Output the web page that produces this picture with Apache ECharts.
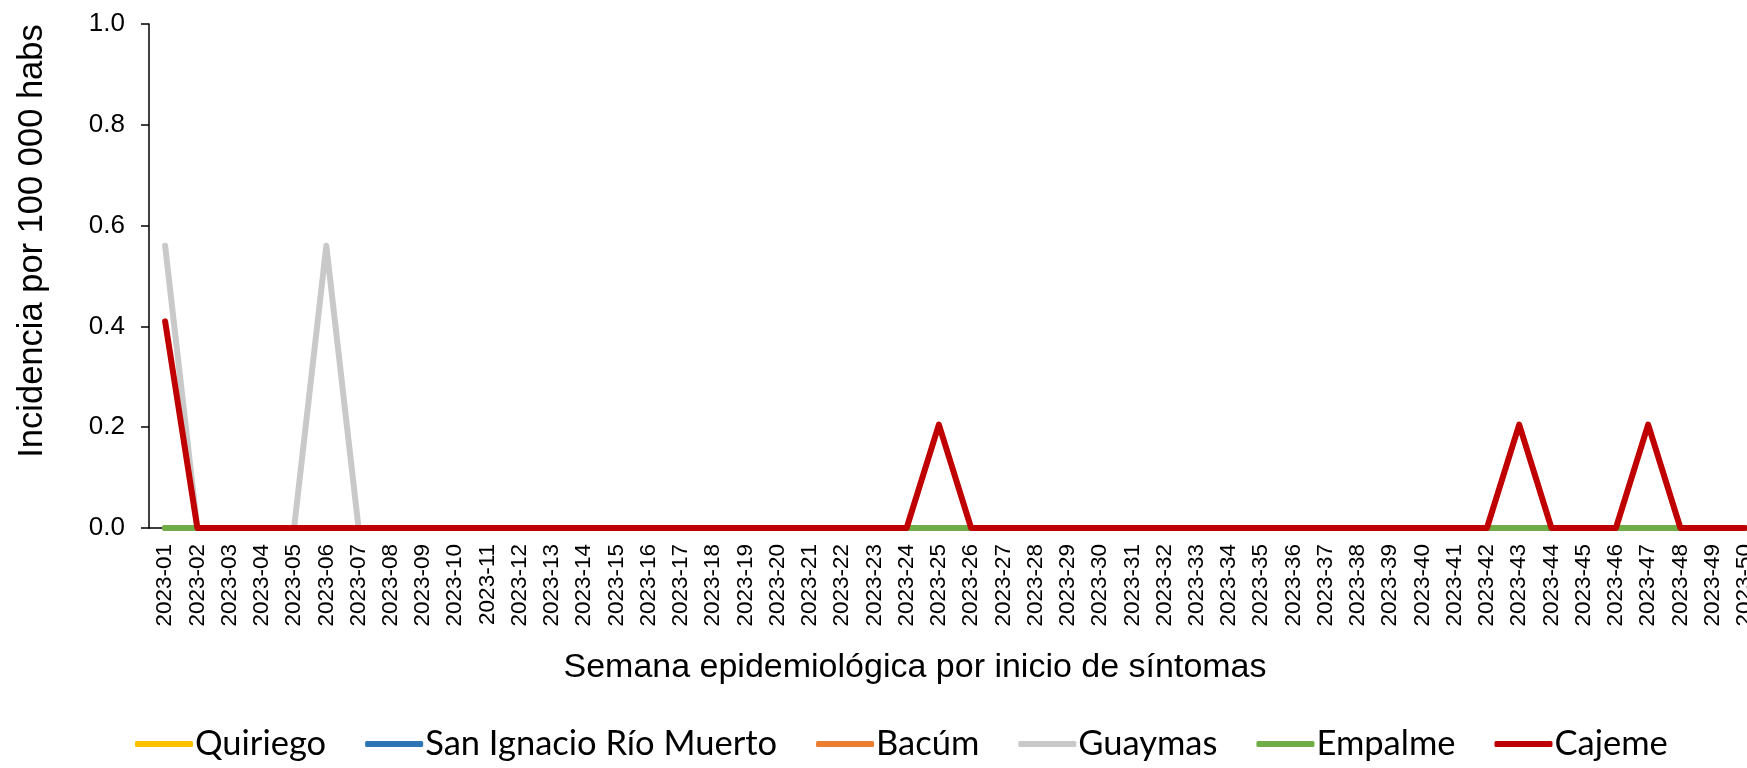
<!DOCTYPE html>
<html style="height: 100%">
<head>
  <meta charset="utf-8">
  <script src="https://cdn.jsdelivr.net/npm/echarts@6/dist/echarts.min.js"></script>
</head>
<body style="height: 100%; margin: 0; background: #fff">
<div id="chart" style="width: 1747px; height: 768px"></div>
<script>
  // semanas epidemiologicas
  var weeks = ['2023-01','2023-02','2023-03','2023-04','2023-05','2023-06','2023-07','2023-08','2023-09','2023-10',
    '2023-11','2023-12','2023-13','2023-14','2023-15','2023-16','2023-17','2023-18','2023-19','2023-20',
    '2023-21','2023-22','2023-23','2023-24','2023-25','2023-26','2023-27','2023-28','2023-29','2023-30',
    '2023-31','2023-32','2023-33','2023-34','2023-35','2023-36','2023-37','2023-38','2023-39','2023-40',
    '2023-41','2023-42','2023-43','2023-44','2023-45','2023-46','2023-47','2023-48','2023-49','2023-50'];

  var quiriego = [0,0,0,0,0,0,0,0,0,0, 0,0,0,0,0,0,0,0,0,0, 0,0,0,0,0,0,0,0,0,0, 0,0,0,0,0,0,0,0,0,0, 0,0,0,0,0,0,0,0,0,0];
  var sanIgnacio = [0,0,0,0,0,0,0,0,0,0, 0,0,0,0,0,0,0,0,0,0, 0,0,0,0,0,0,0,0,0,0, 0,0,0,0,0,0,0,0,0,0, 0,0,0,0,0,0,0,0,0,0];
  var bacum = [0,0,0,0,0,0,0,0,0,0, 0,0,0,0,0,0,0,0,0,0, 0,0,0,0,0,0,0,0,0,0, 0,0,0,0,0,0,0,0,0,0, 0,0,0,0,0,0,0,0,0,0];
  var guaymas = [0.56,0,0,0,0,0.56,0,0,0,0, 0,0,0,0,0,0,0,0,0,0, 0,0,0,0,0,0,0,0,0,0, 0,0,0,0,0,0,0,0,0,0, 0,0,0,0,0,0,0,0,0,0];
  var empalme = [0,0,0,0,0,0,0,0,0,0, 0,0,0,0,0,0,0,0,0,0, 0,0,0,0,0,0,0,0,0,0, 0,0,0,0,0,0,0,0,0,0, 0,0,0,0,0,0,0,0,0,0];
  var cajeme = [0.41,0,0,0,0,0,0,0,0,0, 0,0,0,0,0,0,0,0,0,0, 0,0,0,0,0.205,0,0,0,0,0, 0,0,0,0,0,0,0,0,0,0, 0,0,0.205,0,0,0,0.205,0,0,0];

  var names = ['Quiriego', 'San Ignacio Río Muerto', 'Bacúm', 'Guaymas', 'Empalme', 'Cajeme'];
  var colors = ['#FFC000', '#2E75B6', '#ED7D31', '#C9C9C9', '#70AD47', '#C00000'];
  var values = [quiriego, sanIgnacio, bacum, guaymas, empalme, cajeme];

  var myChart = echarts.init(document.getElementById('chart'));

  var series = [];
  for (var i = 0; i < names.length; i++) {
    series.push({
      name: names[i],
      type: 'line',
      data: values[i],
      symbol: 'none',
      color: colors[i],
      lineStyle: {width: 6, color: colors[i], cap: 'round', join: 'round'}
    });
  }

  var option = {
    animation: false,
    grid: {left: 149, top: 24, width: 1612, height: 504, outerBoundsMode: 'none'},
    legend: {
      data: names,
      left: 130,
      top: 721,
      icon: 'roundRect',
      itemWidth: 58,
      itemHeight: 6,
      itemGap: 39,
      textStyle: {fontFamily: 'Lato', fontSize: 34.5, color: '#000', lineHeight: 36, padding: [0, 0, 0, -3]}
    },
    graphic: [
      {
        type: 'text', x: 915, y: 668,
        style: {text: 'Semana epidemiológica por inicio de síntomas', fontFamily: 'Liberation Sans',
          fontSize: 34, fill: '#000', align: 'center', verticalAlign: 'middle'}
      },
      {
        type: 'text', x: 32, y: 241, rotation: Math.PI / 2,
        style: {text: 'Incidencia por 100 000 habs', fontFamily: 'Liberation Sans',
          fontSize: 34.5, fill: '#000', align: 'center', verticalAlign: 'middle'}
      }
    ],
    xAxis: {
      type: 'category',
      data: weeks,
      boundaryGap: true,
      axisLine: {lineStyle: {color: '#000', width: 1.5}},
      axisTick: {alignWithLabel: true, length: 6, lineStyle: {color: '#000', width: 1.5}},
      axisLabel: {rotate: 90, interval: 0, margin: 16, fontFamily: 'Liberation Sans', fontSize: 22.5, color: '#000'},
      splitLine: {show: false}
    },
    yAxis: {
      type: 'value',
      min: 0,
      max: 1,
      interval: 0.2,
      axisLine: {show: true, lineStyle: {color: '#000', width: 1.5}},
      axisTick: {show: true, length: 8, lineStyle: {color: '#000', width: 1.5}},
      axisLabel: {margin: 24, fontFamily: 'Liberation Sans', fontSize: 26, color: '#000',
        formatter: function (v) { return v.toFixed(1); }},
      splitLine: {show: false}
    },
    series: series
  };
  myChart.setOption(option);
</script>
</body>
</html>
